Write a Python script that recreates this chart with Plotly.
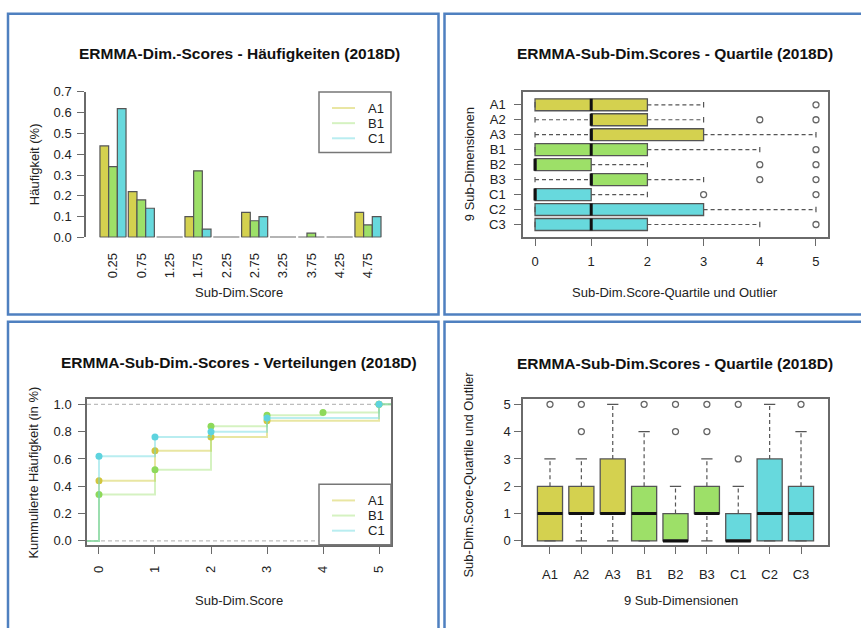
import plotly.graph_objects as go

W, H = 861, 628
FONT = "Liberation Sans"

# ---- score distribution of the three sub-dimensions A1, B1, C1 ----
score_bins = ["0.25", "0.75", "1.25", "1.75", "2.25", "2.75", "3.25", "3.75", "4.25", "4.75"]
bin_mids = [0.25, 0.75, 1.25, 1.75, 2.25, 2.75, 3.25, 3.75, 4.25, 4.75]
series = ["A1", "B1", "C1"]
freq_A1 = [0.44, 0.22, 0.00, 0.10, 0.00, 0.12, 0.00, 0.00, 0.00, 0.12]
freq_B1 = [0.34, 0.18, 0.00, 0.32, 0.00, 0.08, 0.00, 0.02, 0.00, 0.06]
freq_C1 = [0.62, 0.14, 0.00, 0.04, 0.00, 0.10, 0.00, 0.00, 0.00, 0.10]
ecdf_scores = [0, 1, 2, 3, 4, 5]
hist_yticks = [0.0, 0.1, 0.2, 0.3, 0.4, 0.5, 0.6, 0.7]
ecdf_yticks = [0.0, 0.2, 0.4, 0.6, 0.8, 1.0]
score_ticks = [0, 1, 2, 3, 4, 5]

# ---- quartile summary of the nine sub-dimensions ----
dims = ["A1", "A2", "A3", "B1", "B2", "B3", "C1", "C2", "C3"]
box_q1 = [0, 1, 1, 0, 0, 1, 0, 0, 0]
box_median = [1, 1, 1, 1, 0, 1, 0, 1, 1]
box_q3 = [2, 2, 3, 2, 1, 2, 1, 3, 2]
whisker_low = [0, 0, 0, 0, 0, 0, 0, 0, 0]
whisker_high = [3, 3, 5, 4, 2, 3, 2, 5, 4]
outliers = [[5], [4, 5], [], [5], [4, 5], [4, 5], [3, 5], [], [5]]

FILL = {"A": "#D4D14F", "B": "#9DE068", "C": "#67D9DD"}
STEP = {"A": "rgba(212,205,70,0.5)", "B": "rgba(150,222,100,0.4)", "C": "rgba(100,215,222,0.45)"}
DOT = {"A": "#D2C63E", "B": "#8ED95A", "C": "#5ED3DE"}
EDGE = "#555555"
FRAME = "#6a6a6a"

series_freq = {"A1": freq_A1, "B1": freq_B1, "C1": freq_C1}


def px_x(v):
    return v / W


def px_y(v):
    return 1 - v / H


fig = go.Figure()

# ---------- panel 1: grouped histogram ----------
GROUP_HALF = 0.46  # half the width of one group of bars, in category units
for name in series:
    fig.add_trace(go.Bar(
        x=score_bins, y=series_freq[name], name=name,
        marker=dict(color=FILL[name[0]], line=dict(color=EDGE, width=1.2)),
        xaxis="x", yaxis="y", showlegend=False, hoverinfo="skip"))

# ---------- panel 2: horizontal boxplots / panel 4: vertical boxplots ----------
STAPLE = 0.18
HALF = 0.4
for horizontal, xa, ya in [(True, "x2", "y2"), (False, "x4", "y4")]:
    for i, d in enumerate(dims):
        pos = i + 1
        col = FILL[d[0]]
        common = dict(q1=[box_q1[i]], median=[box_median[i]], q3=[box_q3[i]],
                      lowerfence=[box_q1[i]], upperfence=[box_q3[i]],
                      width=2 * HALF, fillcolor=col, line=dict(color=EDGE, width=1.3),
                      xaxis=xa, yaxis=ya, showlegend=False, hoverinfo="skip", boxpoints=False)
        if horizontal:
            fig.add_trace(go.Box(y=[pos], orientation="h", **common))
        else:
            fig.add_trace(go.Box(x=[pos], orientation="v", **common))

    wv, wp = [], []
    sv, sp = [], []
    mv, mp = [], []
    ov, op = [], []
    for i in range(len(dims)):
        pos = i + 1
        if whisker_high[i] > box_q3[i]:
            wv += [box_q3[i], whisker_high[i], None]
            wp += [pos, pos, None]
        if whisker_low[i] < box_q1[i]:
            wv += [whisker_low[i], box_q1[i], None]
            wp += [pos, pos, None]
        for w in (whisker_low[i], whisker_high[i]):
            sv += [w, w, None]
            sp += [pos - STAPLE, pos + STAPLE, None]
        mv += [box_median[i], box_median[i], None]
        mp += [pos - HALF, pos + HALF, None]
        for o in outliers[i]:
            ov.append(o)
            op.append(pos)

    def xy(vals, poss):
        return (vals, poss) if horizontal else (poss, vals)

    # dashed whiskers, solid staples, thick medians, open-circle outliers
    x_, y_ = xy(wv, wp)
    fig.add_trace(go.Scatter(x=x_, y=y_, mode="lines", line=dict(color=EDGE, width=1.2, dash="4px,3px"),
                             xaxis=xa, yaxis=ya, showlegend=False, hoverinfo="skip"))
    x_, y_ = xy(sv, sp)
    fig.add_trace(go.Scatter(x=x_, y=y_, mode="lines", line=dict(color=EDGE, width=1.2),
                             xaxis=xa, yaxis=ya, showlegend=False, hoverinfo="skip"))
    x_, y_ = xy(mv, mp)
    fig.add_trace(go.Scatter(x=x_, y=y_, mode="lines", line=dict(color="#111", width=3),
                             xaxis=xa, yaxis=ya, showlegend=False, hoverinfo="skip"))
    x_, y_ = xy(ov, op)
    fig.add_trace(go.Scatter(x=x_, y=y_, mode="markers",
                             marker=dict(symbol="circle-open", size=6, color="#666", line=dict(width=1.3)),
                             xaxis=xa, yaxis=ya, showlegend=False, hoverinfo="skip"))

# ---------- panel 3: empirical cumulative distributions ----------
for name in series:
    freqs = series_freq[name]
    cum = [sum(f for m, f in zip(bin_mids, freqs) if m < s + 0.5) for s in ecdf_scores]
    step_x = [-1] + ecdf_scores + [6]
    step_y = [0] + cum + [cum[-1]]
    fig.add_trace(go.Scatter(x=step_x, y=step_y, mode="lines", line=dict(color=STEP[name[0]], width=2, shape="hv"),
                             xaxis="x3", yaxis="y3", showlegend=False, hoverinfo="skip"))
    prev = 0
    jx, jy = [], []
    for s, c in zip(ecdf_scores, cum):
        if c - prev > 1e-9:
            jx.append(s)
            jy.append(c)
        prev = c
    fig.add_trace(go.Scatter(x=jx, y=jy, mode="markers", marker=dict(color=DOT[name[0]], size=7),
                             xaxis="x3", yaxis="y3", showlegend=False, hoverinfo="skip"))

# ---------- axes ----------
tickfont = dict(family=FONT, size=13, color="#222")
base = dict(showgrid=False, zeroline=False, tickfont=tickfont, ticks="outside", ticklen=7,
            tickwidth=1, tickcolor=FRAME, linecolor=FRAME, linewidth=1.5)
boxed = dict(base, showline=True, mirror=True)

P1 = dict(x=(86, 391), y=(87, 236))
P2 = dict(x=(523, 828), y=(87, 236))
P3 = dict(x=(87, 391), y=(402, 551))
P4 = dict(x=(523, 828), y=(402, 551))


def dom_x(p):
    return [px_x(p["x"][0]), px_x(p["x"][1])]


def dom_y(p):
    return [px_y(p["y"][1]), px_y(p["y"][0])]


fig.update_layout(
    xaxis=dict(base, domain=dom_x(P1), anchor="y", type="category", range=[-0.953, 9.813],
               showline=False, ticks="", tickangle=-90, ticklabelstandoff=12),
    yaxis=dict(base, domain=dom_y(P1), anchor="x", range=[0, 0.7], tickvals=hist_yticks,
               tickformat=".1f", showline=True, ticklabelstandoff=3),
    xaxis2=dict(boxed, domain=dom_x(P2), anchor="y2", range=[-0.214, 5.214], tickvals=score_ticks,
                ticklabelstandoff=4),
    yaxis2=dict(boxed, domain=dom_y(P2), anchor="x2", range=[9.86, 0.14],
                tickvals=list(range(1, len(dims) + 1)), ticktext=dims, ticklabelstandoff=6),
    xaxis3=dict(boxed, domain=dom_x(P3), anchor="y3", range=[-0.214, 5.214], tickvals=score_ticks,
                tickangle=-90, ticklabelstandoff=7),
    yaxis3=dict(boxed, domain=dom_y(P3), anchor="x3", range=[-0.029, 1.036], tickvals=ecdf_yticks,
                tickformat=".1f", ticklabelstandoff=4),
    xaxis4=dict(boxed, domain=dom_x(P4), anchor="y4", range=[0.14, 9.86],
                tickvals=list(range(1, len(dims) + 1)), ticktext=dims, ticklabelstandoff=10),
    yaxis4=dict(boxed, domain=dom_y(P4), anchor="x4", range=[-0.143, 5.179], tickvals=score_ticks,
                ticklabelstandoff=1),
    barmode="group", bargap=0.08, bargroupgap=0,
    width=W, height=H, margin=dict(l=0, r=0, t=0, b=0),
    paper_bgcolor="white", plot_bgcolor="white",
    font=dict(family=FONT, size=13, color="#222"),
)

shapes = []
annotations = []

# bottom edges of every bar group (zero-height bars still show their border)
for i in range(len(score_bins)):
    shapes.append(dict(type="line", xref="x", yref="y", x0=i - GROUP_HALF, x1=i + GROUP_HALF, y0=0, y1=0,
                       line=dict(color=EDGE, width=1.2), layer="above"))

# reference lines of the cumulative plot
for level in (0, 1):
    shapes.append(dict(type="line", xref="x3 domain", yref="y3", x0=0, x1=1, y0=level, y1=level,
                       line=dict(color="#BDBDBD", width=1.3, dash="4px,3px"), layer="below"))

# panel frames
BLUE = "#4F80C0"
for (x0, y0, x1, y1) in [(8, 7, 438.5, 315), (444.5, 7, 880, 315), (8, 322.5, 438.5, 650), (444.5, 322.5, 880, 650)]:
    shapes.append(dict(type="rect", xref="paper", yref="paper", x0=px_x(x0), x1=px_x(x1),
                       y0=px_y(y1), y1=px_y(y0), line=dict(color=BLUE, width=2.5)))


def add_text(text, x, y, size=13, angle=0, bold=False, xanchor="center"):
    annotations.append(dict(text=f"<b>{text}</b>" if bold else text, x=px_x(x), y=px_y(y),
                            xref="paper", yref="paper", showarrow=False, textangle=angle,
                            xanchor=xanchor, yanchor="middle",
                            font=dict(family=FONT, size=size, color="#111" if bold else "#222")))


# titles
add_text("ERMMA-Dim.-Scores - Häufigkeiten (2018D)", 239, 48, 15.5, bold=True)
add_text("ERMMA-Sub-Dim.Scores - Quartile (2018D)", 675, 48, 15.5, bold=True)
add_text("ERMMA-Sub-Dim.-Scores - Verteilungen (2018D)", 239, 364, 15.5, bold=True)
add_text("ERMMA-Sub-Dim.Scores - Quartile (2018D)", 675, 365, 15.5, bold=True)

# axis titles
add_text("Sub-Dim.Score", 239, 292)
add_text("Häufigkeit (%)", 34, 161, angle=-90)
add_text("Sub-Dim.Score-Quartile und Outlier", 675, 292)
add_text("9 Sub-Dimensionen", 469, 161, angle=-90)
add_text("Sub-Dim.Score", 239, 608)
add_text("Kummulierte Häufigkeit (in %)", 34, 477, angle=-90)
add_text("9 Sub-Dimensionen", 681, 608)
add_text("Sub-Dim.Score-Quartile und Outlier", 469, 479, angle=-90)


# legends (line keys)
def legend_box(left, top, right, bottom):
    shapes.append(dict(type="rect", xref="paper", yref="paper", x0=px_x(left), x1=px_x(right),
                       y0=px_y(bottom), y1=px_y(top), fillcolor="white",
                       line=dict(color="#777", width=1.5), layer="above"))
    for k, name in enumerate(series):
        ry = top + 16.5 + 15.5 * k
        shapes.append(dict(type="line", xref="paper", yref="paper", x0=px_x(left + 13), x1=px_x(left + 36),
                           y0=px_y(ry), y1=px_y(ry), line=dict(color=STEP[name[0]], width=2), layer="above"))
        add_text(name, left + 47, ry, xanchor="left")


legend_box(319, 87, 391, 149)
legend_box(319, 489, 391, 551)

fig.update_layout(shapes=shapes, annotations=annotations)
fig.write_html("out.html")
